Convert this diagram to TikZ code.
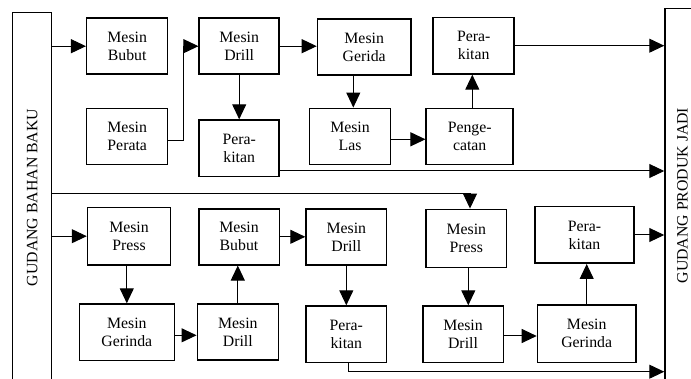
\documentclass[tikz,border=0pt]{standalone}
\usepackage{fontspec}
\setmainfont{Liberation Serif}
\usetikzlibrary{arrows.meta}
\begin{document}
\begin{tikzpicture}[x=1pt,y=-1pt,
  txt/.style={font=\fontsize{15.8}{18}\selectfont},
  box/.style={txt,draw,line width=1.5pt,minimum width=81pt,minimum height=56pt,inner sep=0pt,align=center},
  bar/.style={draw,line width=1.5pt,inner sep=0pt},
  arr/.style={line width=1pt,-{Triangle[length=15pt,width=14pt]}}]
\useasboundingbox (0,0) rectangle (691,379);
\clip (0,0) rectangle (691,379);
% side bars
\node[bar,minimum width=39pt,minimum height=370pt] (gbb) at (32.2,197.5) {};
\node[txt,rotate=90] (gbbt) at (gbb.center) {GUDANG BAHAN BAKU};
\node[bar,minimum width=30pt,minimum height=375pt] (gpj) at (680,196) {};
\node[txt,rotate=90] (gpjt) at (682.5,195.5) {GUDANG PRODUK JADI};
% top group
\node[box] (bubutA) at (127.2,46.2) {Mesin\\Bubut};
\node[box,minimum width=80pt] (drillA) at (239.2,46.2) {Mesin\\Drill};
\node[box,minimum width=93.5pt] (geridaA) at (364.2,47.2) {Mesin\\Gerida};
\node[box,minimum height=56.5pt] (perakitA) at (473.7,45.7) {Pera-\\kitan};
\node[box] (perata) at (127.2,136.3) {Mesin\\Perata};
\node[box,minimum width=80pt,minimum height=56.5pt] (perakitB) at (239.2,148.3) {Pera-\\kitan};
\node[box] (las) at (350,136.3) {Mesin\\Las};
\node[box,minimum width=87pt] (pengecatan) at (469.7,136.3) {Penge-\\catan};
% bottom group
\node[box,minimum width=83pt,minimum height=57.5pt] (pressA) at (129,236.2) {Mesin\\Press};
\node[box,minimum width=95pt,minimum height=56.5pt] (gerindaA) at (126.8,332.3) {Mesin\\Gerinda};
\node[box] (drillB) at (237.8,332) {Mesin\\Drill};
\node[box,minimum width=80.5pt] (bubutB) at (239,236.8) {Mesin\\Bubut};
\node[box,minimum width=80.5pt] (drillC) at (346.3,236.8) {Mesin\\Drill};
\node[box,minimum width=80.5pt,minimum height=56.5pt] (perakitC) at (346.3,334.3) {Pera-\\kitan};
\node[box,minimum width=80.5pt,minimum height=58pt] (pressB) at (466.3,238.3) {Mesin\\Press};
\node[box,minimum width=80.5pt,minimum height=56.5pt] (drillD) at (463,334.3) {Mesin\\Drill};
\node[box,minimum width=98.5pt,minimum height=57.5pt] (gerindaB) at (586.7,333.8) {Mesin\\Gerinda};
\node[box,minimum width=99pt,minimum height=56.5pt] (perakitD) at (584.5,235) {Pera-\\kitan};
% helper coordinates
\coordinate (yperata) at (0,141);
\coordinate (xbend) at (183.3,0);
\coordinate (xlas) at (353.3,0);
\coordinate (ylas) at (0,139.3);
\coordinate (xpeng) at (472.3,0);
\coordinate (y171) at (0,171);
\coordinate (ylong) at (0,193.3);
\coordinate (xlong) at (470,0);
\coordinate (ygerA) at (0,335.3);
\coordinate (xpc) at (348.3,0);
\coordinate (y372) at (0,371.7);
\coordinate (xpressB) at (468.3,0);
\coordinate (ydrD) at (0,336);
% top connectors
\draw[arr] (gbb.east |- bubutA.west) -- (bubutA.west);
\draw[arr] (perata.east |- yperata) -- (xbend |- yperata) -- (xbend |- drillA.west) -- (drillA.west);
\draw[arr] (drillA.east) -- (drillA.east -| geridaA.west);
\draw[arr] (drillA.south) -- (perakitB.north);
\draw[arr] (xlas |- geridaA.south) -- (xlas |- las.north);
\draw[arr] (las.east |- ylas) -- (pengecatan.west |- ylas);
\draw[arr] (xpeng |- pengecatan.north) -- (xpeng |- perakitA.south);
\draw[arr] (perakitA.east) -- (perakitA.east -| gpj.west);
\draw[arr] (perakitB.east |- y171) -- (gpj.west |- y171);
% long line
\draw[arr] (gbb.east |- ylong) -- (xlong |- ylong) -- (xlong |- pressB.north);
% bottom connectors
\draw[arr] (gbb.east |- pressA.west) -- (pressA.west);
\draw[arr] (gerindaA.north |- pressA.south) -- (gerindaA.north);
\draw[arr] (gerindaA.east |- ygerA) -- (drillB.west |- ygerA);
\draw[arr] (drillB.north) -- (drillB.north |- bubutB.south);
\draw[arr] (bubutB.east) -- (bubutB.east -| drillC.west);
\draw[arr] (drillC.south) -- (perakitC.north);
\draw[arr] (xpc |- perakitC.south) -- (xpc |- y372) -- (gpj.west |- y372);
\draw[arr] (xpressB |- pressB.south) -- (xpressB |- drillD.north);
\draw[arr] (drillD.east |- ydrD) -- (gerindaB.west |- ydrD);
\draw[arr] (gerindaB.north) -- (gerindaB.north |- perakitD.south);
\draw[arr] (perakitD.east) -- (perakitD.east -| gpj.west);
\end{tikzpicture}
\end{document}
